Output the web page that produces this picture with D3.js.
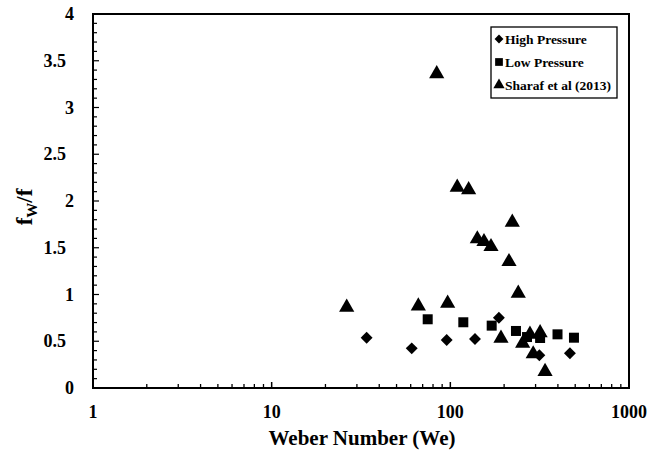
<!DOCTYPE html>
<html><head><meta charset="utf-8">
<script src="https://cdn.jsdelivr.net/npm/d3@7"></script>
<style>
body{margin:0;background:#fff;}
text{font-family:"Liberation Serif","Times New Roman",Times,serif;font-weight:bold;fill:#000;}
</style></head>
<body><svg id="c" width="669" height="462"></svg>
<script>
const highWe = [34, 60.8, 95.4, 137.4, 187, 315, 467];
const highF  = [0.538, 0.424, 0.513, 0.524, 0.752, 0.35, 0.371];
const lowWe = [74.7, 118.2, 170.4, 233, 268.7, 318, 398, 492];
const lowF  = [0.735, 0.703, 0.667, 0.61, 0.545, 0.535, 0.574, 0.538];
const sharafWe = [26.3, 66.2, 83.9, 96.6, 109.3, 126.6, 141.6, 154.3, 168.9, 192.1, 213, 222.2, 240, 254, 279, 291, 318, 339];
const sharafF  = [0.863, 0.877, 3.36, 0.906, 2.147, 2.12, 1.594, 1.565, 1.511, 0.531, 1.351, 1.772, 1.013, 0.478, 0.574, 0.364, 0.59, 0.175];
const xTickValues = [1, 10, 100, 1000];
const yTickValues = [0, 0.5, 1, 1.5, 2, 2.5, 3, 3.5, 4];
const legendLabels = ["High Pressure", "Low Pressure", "Sharaf et al (2013)"];

const svg = d3.select("#c");
const L = 93, R = 629, T = 14, B = 388;
const x = d3.scaleLog().domain([1, 1000]).range([L, R]);
const y = d3.scaleLinear().domain([0, 4]).range([B, T]);

// minor ticks
const xMinor = [];
for (let d = 1; d < 1000; d *= 10) for (let k = 2; k <= 9; k++) xMinor.push(d * k);
svg.append("g").selectAll("line").data(xMinor).join("line")
  .attr("x1", d => x(d)).attr("x2", d => x(d)).attr("y1", B).attr("y2", B - 4)
  .attr("stroke", "#000").attr("stroke-width", 1.3);
svg.append("g").selectAll("line").data([10, 100]).join("line")
  .attr("x1", d => x(d)).attr("x2", d => x(d)).attr("y1", B).attr("y2", B - 6)
  .attr("stroke", "#000").attr("stroke-width", 1.5);
const yMinor = d3.range(1, 40).map(i => i / 10);
svg.append("g").selectAll("line").data(yMinor).join("line")
  .attr("x1", L).attr("x2", d => L + (Math.abs(d * 2 - Math.round(d * 2)) < 1e-6 ? 6 : 4))
  .attr("y1", d => y(d)).attr("y2", d => y(d))
  .attr("stroke", "#000").attr("stroke-width", 1.2);

// frame
svg.append("rect").attr("x", L).attr("y", T).attr("width", R - L).attr("height", B - T)
  .attr("fill", "none").attr("stroke", "#000").attr("stroke-width", 2);

// tick labels
svg.append("g").selectAll("text").data(xTickValues).join("text")
  .attr("x", d => x(d)).attr("y", 418).attr("text-anchor", "middle")
  .style("font-size", "18px").text(d => d);
svg.append("g").selectAll("text").data(yTickValues).join("text")
  .attr("x", d => Number.isInteger(d) ? 74 : 66).attr("y", d => y(d) + 6)
  .attr("text-anchor", "end").style("font-size", "18px").text(d => d);

// axis titles
svg.append("text").attr("x", (L + R) / 2 + 1).attr("y", 445).attr("text-anchor", "middle")
  .style("font-size", "21px").text("Weber Number (We)");
const yl = svg.append("text").attr("transform", "translate(32,207) rotate(-90)")
  .attr("text-anchor", "middle").style("font-size", "23px");
yl.append("tspan").text("f");
yl.append("tspan").attr("dy", 5).style("font-size", "15px").text("W");
yl.append("tspan").attr("dy", -5).text("/f");

// symbols
const sym = {
  diamond: d3.symbol().type(d3.symbolDiamond2).size(90),
  square: d3.symbol().type(d3.symbolSquare).size(100),
  triangle: d3.symbol().type(d3.symbolTriangle).size(100)
};
function series(we, f, s) {
  svg.append("g").selectAll("path").data(we.map((w, i) => [w, f[i]])).join("path")
    .attr("d", s).attr("transform", d => `translate(${x(d[0])},${y(d[1])})`).attr("fill", "#000");
}
series(highWe, highF, sym.diamond);
series(lowWe, lowF, sym.square);
series(sharafWe, sharafF, sym.triangle);

// legend
const lg = svg.append("g");
lg.append("rect").attr("x", 491).attr("y", 27).attr("width", 126).attr("height", 71)
  .attr("fill", "#fff").attr("stroke", "#000").attr("stroke-width", 1.3);
const legSyms = [d3.symbol().type(d3.symbolDiamond2).size(50), d3.symbol().type(d3.symbolSquare).size(60), d3.symbol().type(d3.symbolTriangle).size(55)];
legendLabels.forEach((t, i) => {
  const cy = 39 + i * 23;
  lg.append("path").attr("d", legSyms[i]).attr("transform", `translate(499,${cy})`).attr("fill", "#000");
  lg.append("text").attr("x", 505).attr("y", cy + 4.5).style("font-size", "13.5px").text(t);
});
</script></body></html>
